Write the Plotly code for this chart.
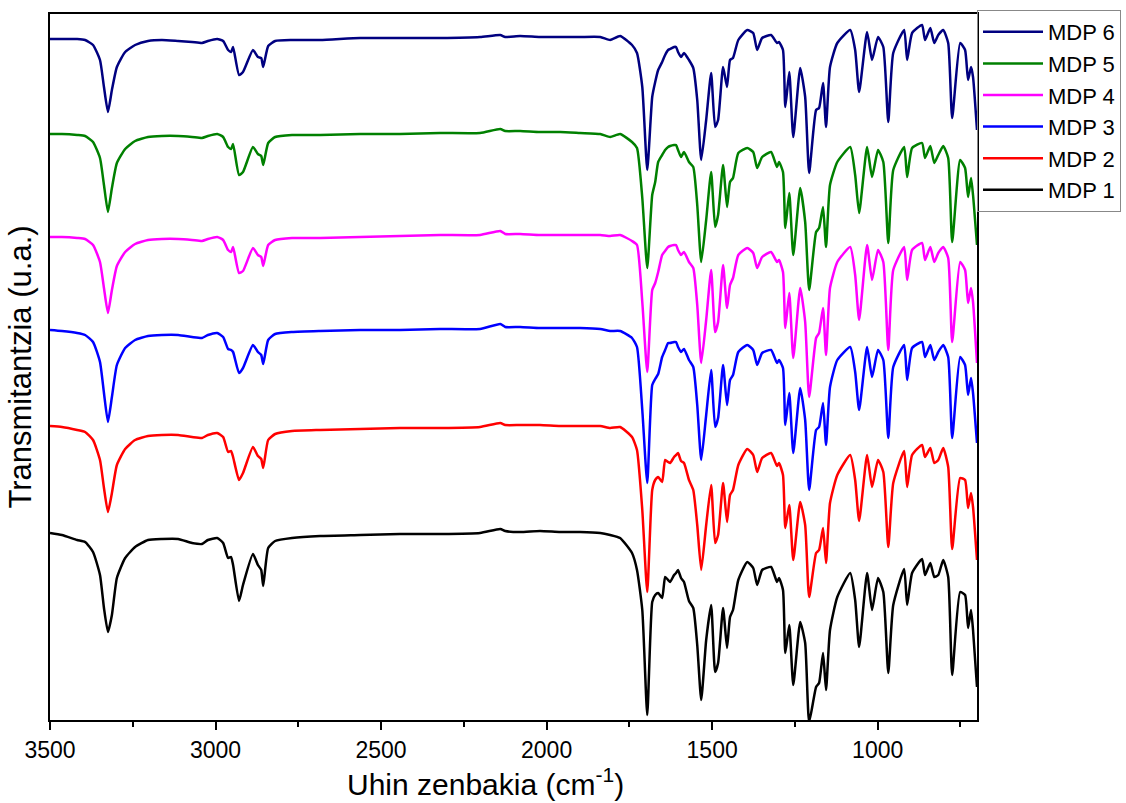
import plotly.graph_objects as go

# Wavenumber grid (cm-1) shared by all spectra
wavenumber = [
    3500, 3464, 3418, 3394, 3370, 3349, 3337, 3325, 3313, 3298,
    3273, 3243, 3204, 3162, 3113, 3071, 3041, 3023, 2995, 2977,
    2962, 2953, 2947, 2929, 2917, 2887, 2872, 2862, 2856, 2841,
    2820, 2769, 2684, 2563, 2443, 2322, 2201, 2140, 2125, 2080,
    2020, 1959, 1899, 1838, 1808, 1778, 1742, 1727, 1711, 1696,
    1681, 1672, 1663, 1651, 1642, 1633, 1627, 1615, 1609, 1603,
    1594, 1585, 1570, 1557, 1545, 1533, 1518, 1503, 1491, 1482,
    1467, 1455, 1446, 1437, 1421, 1394, 1376, 1364, 1349, 1322,
    1304, 1298, 1286, 1279, 1267, 1255, 1234, 1219, 1207, 1186,
    1177, 1165, 1156, 1144, 1122, 1083, 1068, 1056, 1032, 1017,
    999, 983, 968, 953, 920, 911, 896, 866, 857, 841,
    829, 817, 802, 787, 775, 751, 736, 727, 718, 712,
    700,
]

# Stacked transmittance spectra (arbitrary units, offset per sample)
mdp1 = [
    187, 185, 180, 178, 168, 145, 112, 88, 105, 142,
    162, 173, 180, 181, 181, 177, 176, 180, 182, 177,
    162, 163, 155, 119, 135, 166, 155, 150, 134, 172,
    179, 182, 184, 185, 186, 186, 187, 191, 189, 188,
    189, 188, 188, 187, 185, 182, 167, 150, 110, 5,
    118, 125, 127, 122, 143, 140, 138, 145, 147, 150,
    142, 138, 119, 112, 75, 20, 80, 115, 48, 57,
    112, 72, 103, 110, 140, 158, 152, 135, 150, 153,
    138, 142, 130, 67, 95, 35, 98, 77, -2, 33,
    37, 67, 30, 90, 123, 147, 120, 73, 147, 110,
    142, 128, 47, 115, 151, 115, 147, 161, 145, 157,
    143, 145, 160, 143, 45, 128, 125, 92, 110, 90,
    33,
]
mdp2 = [
    294, 293, 290, 288, 280, 260, 232, 208, 227, 255,
    271, 280, 284, 285, 285, 283, 282, 285, 287, 283,
    268, 269, 263, 240, 247, 273, 264, 261, 252, 280,
    286, 289, 290, 291, 292, 292, 293, 297, 295, 295,
    295, 294, 294, 294, 292, 293, 283, 270, 210, 128,
    230, 240, 243, 238, 260, 258, 257, 263, 265, 267,
    259, 257, 240, 230, 195, 150, 195, 235, 177, 185,
    237, 198, 225, 230, 255, 271, 265, 248, 262, 267,
    254, 257, 245, 192, 215, 160, 218, 195, 123, 167,
    170, 192, 157, 217, 245, 265, 240, 199, 265, 233,
    260, 248, 173, 237, 269, 233, 265, 275, 263, 272,
    257, 260, 272, 253, 171, 242, 240, 212, 227, 213,
    160,
]
mdp3 = [
    390, 389, 387, 385, 378, 358, 327, 298, 323, 355,
    372, 380, 384, 385, 385, 383, 382, 385, 387, 383,
    371, 370, 368, 347, 352, 375, 368, 365, 356, 380,
    386, 388, 389, 390, 390, 391, 391, 396, 393, 393,
    392, 392, 392, 391, 389, 389, 382, 373, 310, 237,
    335, 341, 346, 363, 370, 377, 377, 378, 378, 373,
    368, 371, 360, 353, 315, 260, 305, 350, 293, 302,
    355, 315, 340, 345, 368, 375, 370, 355, 367, 370,
    357, 360, 352, 295, 327, 267, 332, 300, 230, 290,
    293, 317, 275, 333, 360, 373, 348, 310, 373, 343,
    370, 360, 282, 353, 375, 340, 372, 378, 363, 375,
    360, 368, 375, 363, 282, 363, 355, 325, 342, 327,
    277,
]
mdp4 = [
    483, 483, 482, 481, 475, 458, 432, 407, 430, 454,
    468, 476, 480, 481, 481, 480, 479, 481, 483, 480,
    470, 468, 473, 447, 449, 472, 465, 463, 454, 475,
    480, 482, 482, 483, 484, 485, 485, 489, 486, 486,
    485, 485, 485, 485, 484, 485, 479, 475, 418, 348,
    430, 437, 448, 465, 469, 473, 474, 475, 475, 470,
    465, 468, 458, 452, 415, 357, 400, 450, 388, 398,
    455, 412, 435, 442, 465, 472, 467, 452, 463, 468,
    458, 460, 448, 392, 427, 362, 432, 398, 323, 382,
    387, 412, 365, 432, 458, 473, 445, 400, 475, 440,
    470, 458, 370, 450, 473, 440, 470, 477, 460, 473,
    458, 467, 473, 462, 378, 458, 450, 417, 432, 418,
    357,
]
mdp5 = [
    586, 586, 585, 584, 578, 562, 535, 508, 532, 557,
    571, 579, 583, 584, 584, 583, 582, 584, 586, 583,
    573, 571, 576, 545, 548, 573, 566, 564, 555, 577,
    583, 585, 585, 586, 586, 587, 587, 591, 589, 589,
    588, 588, 587, 586, 583, 586, 578, 572, 522, 452,
    525, 538, 558, 565, 570, 573, 574, 575, 575, 570,
    563, 568, 558, 553, 515, 458, 500, 548, 493, 505,
    555, 513, 538, 542, 567, 572, 568, 552, 563, 568,
    553, 558, 548, 492, 527, 465, 532, 498, 430, 488,
    492, 513, 473, 535, 558, 573, 545, 507, 573, 543,
    570, 558, 477, 550, 573, 543, 572, 577, 562, 574,
    557, 565, 574, 562, 478, 560, 552, 523, 542, 525,
    475,
]
mdp6 = [
    681, 681, 681, 680, 675, 660, 633, 608, 630, 653,
    668, 675, 679, 680, 679, 678, 677, 679, 681, 679,
    670, 668, 673, 645, 648, 670, 663, 662, 653, 674,
    679, 680, 680, 682, 682, 682, 683, 685, 683, 684,
    683, 683, 683, 683, 680, 684, 675, 667, 633, 550,
    623, 638, 650, 658, 665, 670, 671, 673, 673, 668,
    663, 667, 660, 652, 620, 560, 600, 647, 593, 600,
    653, 633, 660, 662, 680, 690, 687, 670, 682, 685,
    677, 678, 670, 613, 648, 583, 652, 623, 547, 610,
    612, 637, 593, 653, 677, 690, 670, 628, 688, 660,
    683, 673, 598, 667, 690, 660, 687, 695, 680, 692,
    677, 685, 690, 677, 602, 677, 670, 640, 653, 643,
    590,
]

series_names = ["MDP 1", "MDP 2", "MDP 3", "MDP 4", "MDP 5", "MDP 6"]
series_values = [mdp1, mdp2, mdp3, mdp4, mdp5, mdp6]
series_colors = ["#000000", "#FF0000", "#0000FF", "#FF00FF", "#008000", "#000080"]

x_ticks = [3500, 3000, 2500, 2000, 1500, 1000]

FONT = "Arial, 'Liberation Sans', sans-serif"

fig = go.Figure()
for name, vals, col in zip(series_names, series_values, series_colors):
    fig.add_trace(go.Scatter(
        x=wavenumber, y=vals, name=name, mode="lines",
        line=dict(color=col, width=2.5, shape="spline", smoothing=0.5),
    ))

fig.update_layout(
    width=1126, height=803,
    margin=dict(l=50, r=149, t=14, b=83, autoexpand=False),
    paper_bgcolor="white", plot_bgcolor="white",
    font=dict(family=FONT, color="#000000"),
    showlegend=True,
    legend=dict(
        x=1.0, xanchor="left", y=1.0057, yanchor="top",
        traceorder="reversed",
        bgcolor="rgba(255,255,255,0)",
        bordercolor="#888888", borderwidth=1,
        font=dict(family=FONT, size=22, color="#000000"),
        itemwidth=60,
    ),
    annotations=[
        dict(
            text="Uhin zenbakia (cm<sup>-1</sup>)",
            xref="paper", yref="paper", x=0.4703, y=-0.058,
            xanchor="center", yanchor="top", showarrow=False,
            font=dict(family=FONT, size=30, color="#000000"),
        )
    ],
)

fig.update_xaxes(
    range=[3500, 700], tickvals=x_ticks,
    ticks="outside", ticklen=8, tickwidth=2, tickcolor="#000000",
    minor=dict(dtick=250, ticks="outside", ticklen=5, tickwidth=2, tickcolor="#000000"),
    showline=True, linewidth=2, linecolor="#000000", mirror=True,
    showgrid=False, zeroline=False,
    tickfont=dict(family=FONT, size=23),
)
fig.update_yaxes(
    range=[0, 706], showticklabels=False, ticks="",
    showline=True, linewidth=2, linecolor="#000000", mirror=True,
    showgrid=False, zeroline=False,
    title=dict(text="Transmitantzia (u.a.)", font=dict(family=FONT, size=31), standoff=7),
)

fig.write_html("out.html")
